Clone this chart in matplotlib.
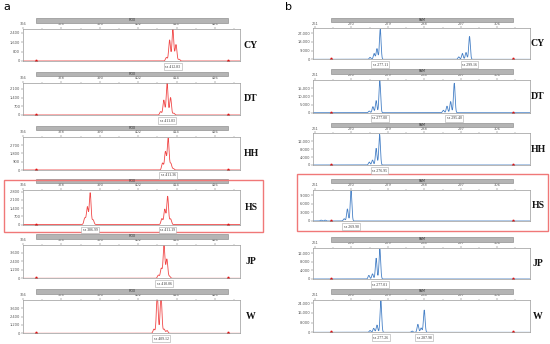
import numpy as np
import matplotlib as mpl
mpl.use("Agg")
import matplotlib.pyplot as plt
from matplotlib.patches import Rectangle

W, H = 550, 344
samples = ["CY", "DT", "HH", "HS", "JP", "W"]

# panel a (ROX)
rox_pos = [[410.8, 411.8, 412.83, 413.8, 414.8],
           [409.0, 410.0, 411.03, 412.1, 413.1],
           [409.6, 410.5, 411.36, 412.2, 413.0],
           [385.3, 386.1, 386.99, 387.9, 409.4, 410.3, 411.19, 412.1],
           [408.3, 409.2, 410.06, 410.95, 411.8],
           [406.9, 407.95, 409.12, 410.1, 411.0]]
rox_hgt = [[300, 1800, 2700, 1400, 150],
           [270, 1200, 2550, 1400, 150],
           [750, 1980, 3430, 700, 150],
           [550, 1500, 2700, 400, 500, 1300, 2400, 480],
           [450, 1400, 4600, 2700, 300],
           [600, 5500, 5500, 600, 400]]
rox_sz = [[412.83], [411.03], [411.36], [386.99, 411.19], [410.06], [409.12]]
rox_yticks = [[0, 800, 1600, 2400], [0, 700, 1400, 2100], [0, 900, 1800, 2700],
              [0, 700, 1400, 2100, 2800], [0, 1200, 2400, 3600], [0, 1200, 2400, 3600]]
rox_ymax = [2740, 2600, 3600, 2940, 4700, 4800]
rox_xticks = [366, 378, 390, 402, 414, 426]
rox_marks = [370, 430]

# panel b (FAM)
fam_pos = [[274.6, 275.6, 276.3, 277.11, 296.5, 297.4, 298.3, 299.16],
           [274.4, 275.3, 276.1, 277.0, 292.7, 293.6, 294.5, 295.4],
           [274.4, 275.2, 276.1, 276.95],
           [262.5, 263.5, 268.2, 269.0, 269.9],
           [274.3, 275.2, 276.1, 277.01],
           [274.6, 275.5, 276.3, 277.26, 285.0, 286.4, 287.2, 287.98]]
fam_hgt = [[2000, 6000, 11000, 31000, 2500, 6000, 7000, 23500],
           [1000, 3700, 7400, 19700, 1500, 4000, 6800, 18000],
           [1500, 2500, 8400, 15500],
           [300, 300, 800, 4200, 10500],
           [1700, 2400, 9700, 14000],
           [1500, 3300, 6000, 26000, 1000, 6600, 3600, 18400]]
fam_sz = [[277.11, 299.16], [277.00, 295.40], [276.95], [269.90], [277.01], [277.26, 287.98]]
fam_yticks = [[0, 9000, 18000, 27000], [0, 5000, 10000, 15000], [0, 4000, 8000, 12000],
              [0, 3000, 6000, 9000], [0, 4000, 8000, 12000], [0, 8000, 16000, 24000]]
fam_ymax = [32000, 20000, 16000, 10800, 14500, 26700]
fam_xticks = [261, 270, 279, 288, 297, 306]
fam_marks = [265, 310]

# layout in pixels (top, bottom) of each plot area
rox_rows = [(29, 61), (82.7, 115), (136.7, 170), (190, 224.5), (245, 278.3), (300, 333.3)]
fam_rows = [(28.3, 59.3), (80, 112.7), (133.3, 165), (190, 221), (248, 279), (300, 332.3)]

fig = plt.figure(figsize=(W / 100, H / 100), dpi=100)


def fx(px): return px / W
def fy(py): return 1 - py / H


def panel(x0, x1, top, bot, xlim, xticks, minor, pos, hgt, sz, yticks, ymax, marks,
          dye, color, sigma, label, lab_x):
    ax = fig.add_axes([fx(x0), fy(bot), fx(x1 - x0), (bot - top) / H])
    xs = np.linspace(xlim[0], xlim[1], 3000)
    ys = np.zeros_like(xs)
    for p, h in zip(pos, hgt):
        ys += h * np.exp(-0.5 * ((xs - p) / sigma) ** 2)
    ax.plot(xs, ys, color=color, lw=0.6)
    ax.plot(marks, [0, 0], ls="none", marker="^", ms=2.2, color="#e01010")
    ax.set_xlim(*xlim)
    ax.set_ylim(0, ymax)
    ax.xaxis.tick_top()
    ax.set_xticks(xticks)
    ax.set_xticks(np.arange(xticks[0], xlim[1], minor), minor=True)
    ax.set_yticks(yticks)
    ax.set_yticklabels([f"{v:,}" for v in yticks])
    ax.tick_params(labelsize=2.6, length=1.2, width=0.3, pad=0.8, colors="#555")
    ax.tick_params(which="minor", length=0.8, width=0.3, colors="#777")
    for s in ax.spines.values():
        s.set_color("#999")
        s.set_linewidth(0.5)
    # dye bar
    bx0 = x0 + (marks[0] - xlim[0]) / (xlim[1] - xlim[0]) * (x1 - x0)
    bx1 = x0 + (marks[1] - xlim[0]) / (xlim[1] - xlim[0]) * (x1 - x0)
    fig.patches.append(Rectangle((fx(bx0), fy(top - 6.5)), fx(bx1 - bx0), 4.2 / H,
                                 transform=fig.transFigure, fc="#b4b4b4", ec="#808080", lw=0.4))
    fig.text(fx((bx0 + bx1) / 2), fy(top - 8.6), dye, fontsize=2.4, ha="center", va="center",
             color="#333")
    for s in sz:
        xp = x0 + (s - xlim[0]) / (xlim[1] - xlim[0]) * (x1 - x0)
        fig.text(fx(xp), fy(bot + 5.5), f"sz {s:.2f}", fontsize=2.8, ha="center", va="center",
                 family="Liberation Serif", color="#333",
                 bbox=dict(boxstyle="square,pad=0.35", fc="white", ec="#aaa", lw=0.4))
    fig.text(fx(lab_x), fy((top + bot) / 2), label, fontsize=7, fontweight="bold",
             family="Liberation Serif", ha="center", va="center", color="#111")


for i, s in enumerate(samples):
    t, b = rox_rows[i]
    panel(23, 240, t, b, (366, 433.8), rox_xticks, 6, rox_pos[i], rox_hgt[i], rox_sz[i],
          rox_yticks[i], rox_ymax[i], rox_marks, "ROX", "#f04848", 0.28, s, 251)
    t, b = fam_rows[i]
    panel(313, 530, t, b, (260.5, 314.1), fam_xticks, 4.5, fam_pos[i], fam_hgt[i], fam_sz[i],
          fam_yticks[i], fam_ymax[i], fam_marks, "FAM", "#4680c6", 0.2, s, 538)

# highlight boxes around HS rows
fig.patches.append(Rectangle((fx(4), fy(232)), fx(259), 52 / H, transform=fig.transFigure,
                             fill=False, ec="#f07878", lw=1.0))
fig.patches.append(Rectangle((fx(297), fy(231)), fx(251), 57 / H, transform=fig.transFigure,
                             fill=False, ec="#f07878", lw=1.0))

fig.text(fx(7), fy(7), "a", fontsize=8, ha="center", va="center")
fig.text(fx(288), fy(7), "b", fontsize=8, ha="center", va="center")

fig.savefig("out.png", dpi=100)
